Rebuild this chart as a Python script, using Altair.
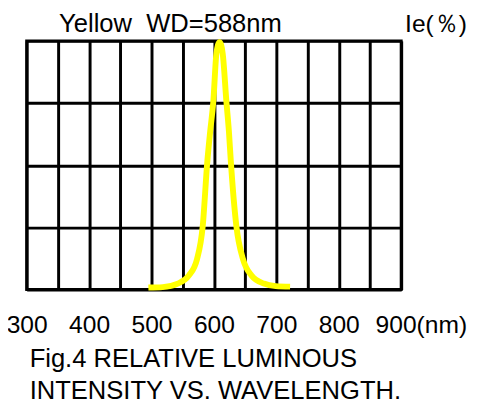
import altair as alt
import pandas as pd

# Spectrum curve (wavelength nm, relative intensity %)
wavelength = [495, 518, 542, 560, 573, 582, 589.5, 594, 599, 604, 609,
              614, 620, 624, 627, 636, 646.5, 660, 680, 699, 722]
intensity = [0.8, 1.0, 2.4, 5.7, 12.3, 25.4, 51.8, 63.6, 75.5, 95, 99.5,
             95, 75.5, 63.6, 51.8, 25.4, 12.3, 5.7, 2.4, 1.4, 1.2]

x_grid = [300, 350, 400, 450, 500, 550, 600, 650, 700, 750, 800, 850, 900]
y_grid = [0, 25, 50, 75, 100]

title_text = "Yellow\u00a0\u00a0WD=588nm"
unit_text = "Ie(\uff05)"
caption_1 = "Fig.4 RELATIVE LUMINOUS"
caption_2 = "INTENSITY VS. WAVELENGTH."

FONT = "Liberation Sans"
FS = 25

df = pd.DataFrame({"wl": wavelength, "ie": intensity})

x_scale = alt.Scale(domain=[300, 900], nice=False, zero=False)
y_scale = alt.Scale(domain=[0, 100], nice=False)

x_axis = alt.Axis(
    values=x_grid, grid=True, gridColor="black", gridWidth=3, gridOpacity=1,
    domain=False, ticks=False, tickSize=0, title=None,
    labelExpr="datum.value % 100 == 0 ? (datum.value == 900 ? '900(nm)' : datum.label) : ''",
    labelFont=FONT, labelFontSize=FS, labelColor="black",
    labelBaseline="alphabetic", labelPadding=44,
    labelOffset={"condition": {"test": "datum.value == 900", "value": 20}, "value": 0},
    labelOverlap=False, labelFlush=False, format="d",
)
y_axis = alt.Axis(
    values=y_grid, grid=True, gridColor="black", gridWidth=3, gridOpacity=1,
    domain=False, ticks=False, labels=False, title=None,
)

grid = alt.Chart(df).mark_line(opacity=0).encode(
    x=alt.X("wl:Q", scale=x_scale, axis=x_axis),
    y=alt.Y("ie:Q", scale=y_scale, axis=y_axis),
)

curve = alt.Chart(df).mark_line(
    color="#FFFF00", strokeWidth=6, interpolate="monotone", strokeCap="butt"
).encode(
    x=alt.X("wl:Q", scale=x_scale, axis=x_axis),
    y=alt.Y("ie:Q", scale=y_scale, axis=y_axis),
)

def label(text, x, y, size=FS):
    return alt.Chart(pd.DataFrame({"t": [text]})).mark_text(
        font=FONT, fontSize=size, color="black", align="left", baseline="alphabetic"
    ).encode(x=alt.value(x), y=alt.value(y), text="t:N")

chart = alt.layer(
    grid,
    curve,
    label(title_text, 33, -9, 26),
    label(unit_text, 385, -9),
    label(caption_1, 3, 332, 26),
    label(caption_2, 3, 364, 26),
).properties(
    width=381, height=253,
    background="white",
    autosize=alt.AutoSizeParams(type="none"),
    padding={"left": 19, "top": 30, "right": 70, "bottom": 114},
).configure_view(
    stroke="black", strokeWidth=3,
)

chart.save("out.html", embed_options={"renderer": "svg", "actions": False})
